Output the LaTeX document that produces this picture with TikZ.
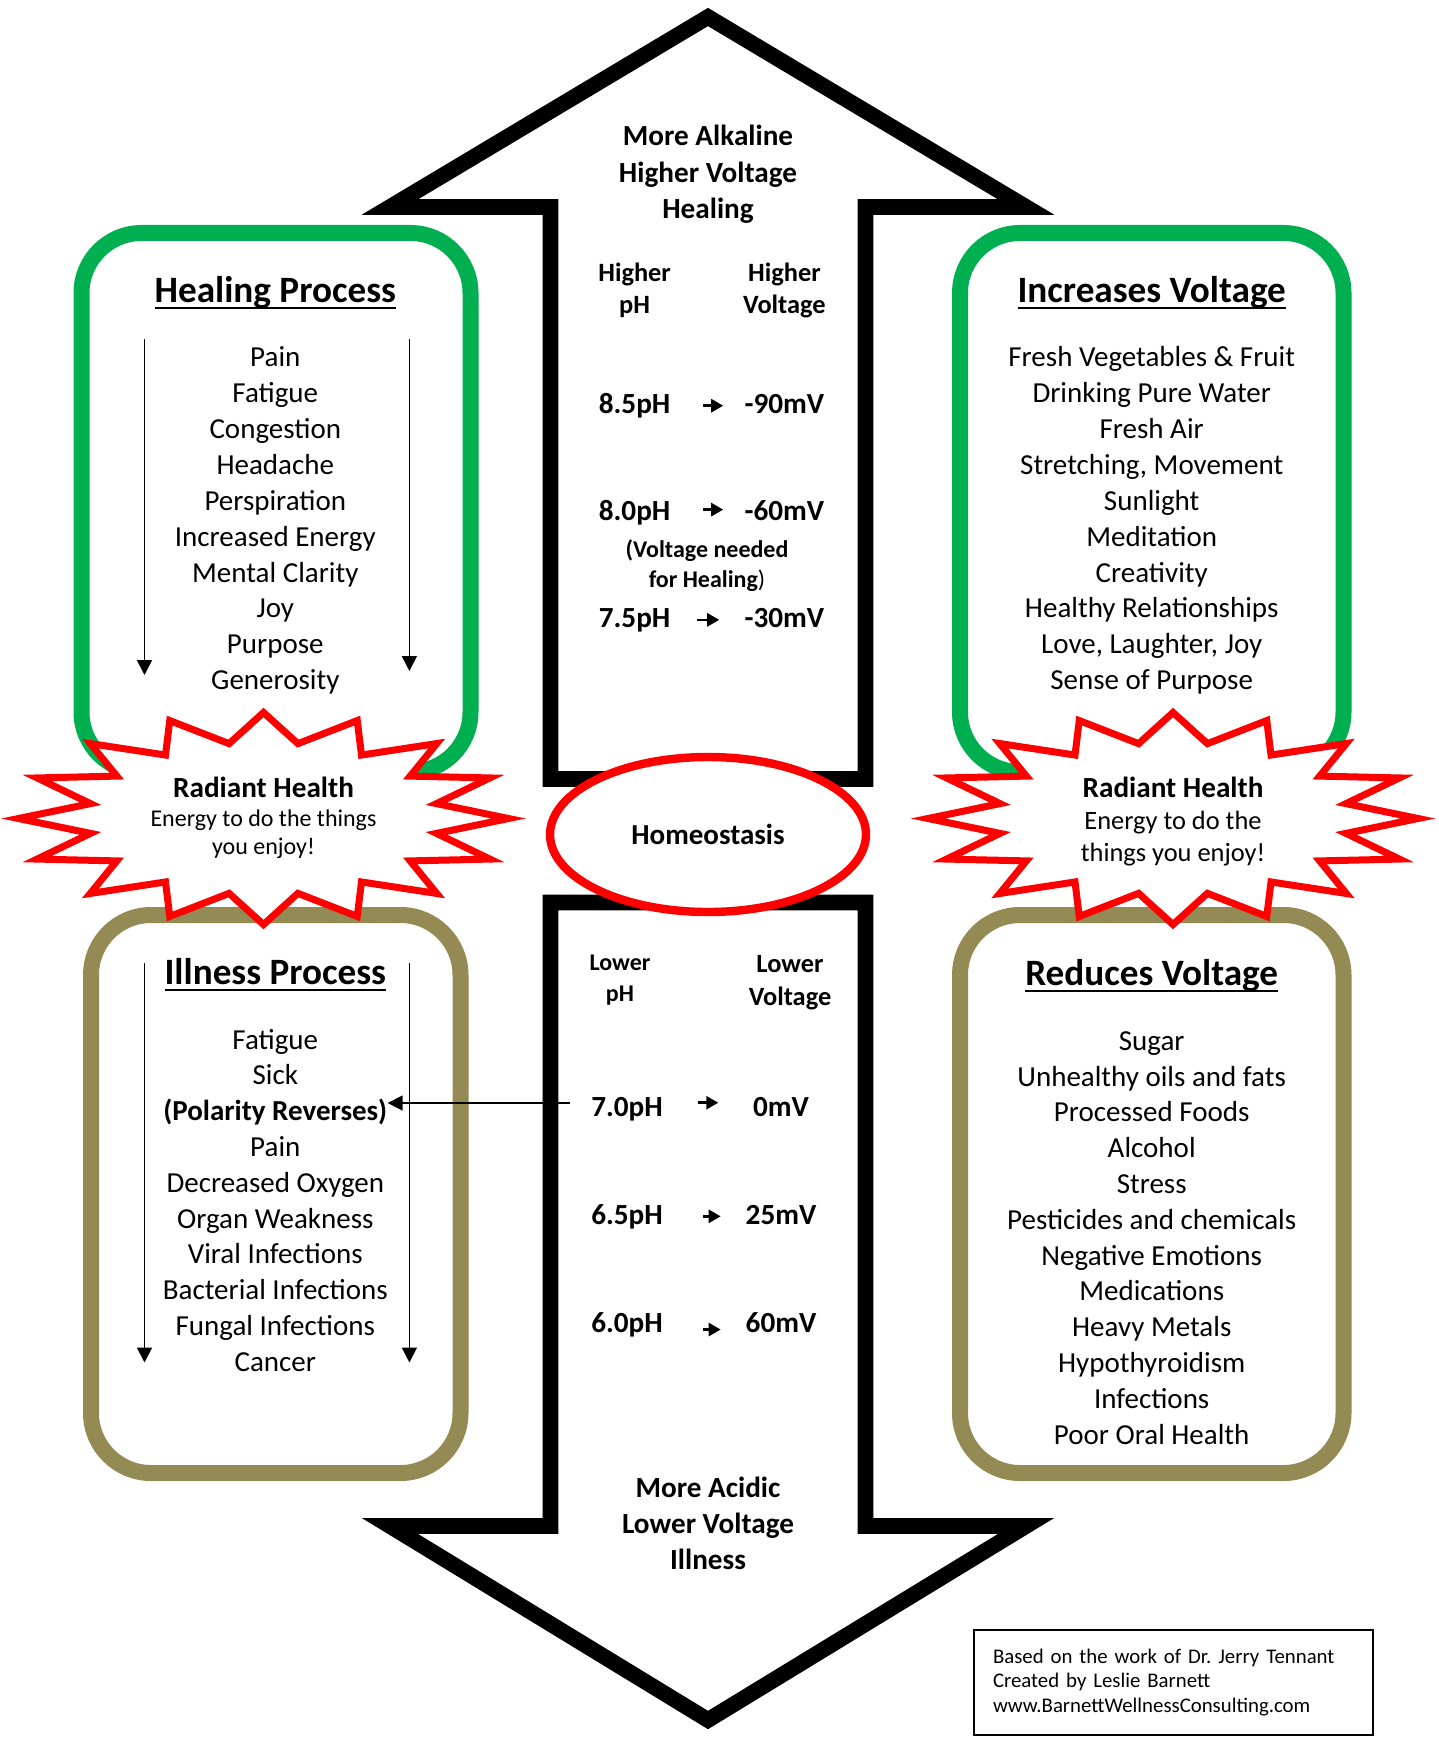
\documentclass[tikz,border=0pt]{standalone}
\usepackage{fontspec}
\setmainfont{Carlito}
\usetikzlibrary{arrows.meta,shapes.geometric}
\frenchspacing

\definecolor{healgreen}{RGB}{0,176,80}
\definecolor{sickolive}{RGB}{148,138,84}

\newcommand{\fsz}[2]{\fontsize{#1}{#2}\selectfont}
% underlined title
\newsavebox{\ttlbox}
\newcommand{\titleline}[1]{\sbox{\ttlbox}{#1}\rlap{\usebox{\ttlbox}}\rule[-3.3pt]{\wd\ttlbox}{1pt}}
% 16 point burst round (#1,#2)
\newcommand{\radiant}[2]{%
  \draw[burst] plot[samples at={0,...,31}]
    ({#1+245*(1-0.28*mod(\x,2))*cos(\x*11.25)},
     {#2+106*(1-0.28*mod(\x,2))*sin(\x*11.25)}) -- cycle;}

\tikzset{
  bigarrow/.style={draw=black, line width=7.85pt, line join=miter, fill=white},
  goodbox/.style={draw=healgreen, line width=8pt, rounded corners=30pt},
  badbox/.style={draw=sickolive, line width=8pt, rounded corners=30pt},
  burst/.style={draw=red, line width=3.5pt, line join=miter, fill=white},
  homeo/.style={ellipse, draw=red, line width=4.2pt, fill=white, inner sep=0pt,
    minimum width=158pt, minimum height=77.5pt, font=\bfseries\fsz{14.5}{18}},
  hd/.style={anchor=base, inner sep=0pt, font=\bfseries\fsz{14.6}{18}},
  col/.style={anchor=base, inner sep=0pt, font=\bfseries\fsz{13.2}{16}},
  colsmall/.style={anchor=base, inner sep=0pt, font=\bfseries\fsz{12}{14}},
  note/.style={anchor=base, inner sep=0pt, font=\bfseries\fsz{12}{14}},
  ttl/.style={anchor=base, inner sep=0pt, font=\bfseries\fsz{18.6}{22}},
  item/.style={anchor=base, inner sep=0pt, font=\fsz{14.5}{17.4}},
  cheer/.style={anchor=base, inner sep=0pt, font=\fsz{12}{14}},
  cheerbig/.style={anchor=base, inner sep=0pt, font=\fsz{13.2}{16}},
  credit/.style={draw, line width=1pt, text width=180.5pt, align=left,
    inner xsep=9.5pt, minimum height=52.5pt, font=\fsz{10.4}{12.25}},
  phar/.style={-{Triangle[length=6pt,width=6.5pt]}, line width=1.3pt},
  listar/.style={-{Triangle[length=7.5pt,width=7.5pt]}, line width=0.85pt}
}

\begin{document}
\begin{tikzpicture}[x=0.5pt,y=-0.5pt]
  \fill[white] (0,0) rectangle (1439,1739);
  \useasboundingbox (0,0) rectangle (1439,1739);

  % Big arrows up and down
  \draw[bigarrow] (550.5,779) -- (550.5,207) -- (390,207) -- (708,17)
    -- (1026,207) -- (865.5,207) -- (865.5,779) -- cycle;
  \draw[bigarrow] (550.5,902.5) -- (550.5,1526) -- (390,1526) -- (708,1720)
    -- (1026,1526) -- (865.5,1526) -- (865.5,902.5) -- cycle;

  % Side boxes
  \draw[goodbox] (81.5,233) rectangle (470.5,772);
  \draw[goodbox] (960,233) rectangle (1343.5,772);
  \draw[badbox] (91,915) rectangle (460.5,1473);
  \draw[badbox] (960,915) rectangle (1343.5,1473);

  % Bursts
  \radiant{263.5}{818.5}
  \radiant{1173}{818.5}

  \node[homeo] (homeo) at (708,834.5) {Homeostasis};

  % Upper arrow text
  \node[hd] (alk) at (708,146) {More Alkaline};
  \node[hd] (hivolt) at (708,183) {Higher Voltage};
  \node[hd] (heal) at (708,219) {Healing};
  \node[col] (hph1) at (634.6,281) {Higher};
  \node[col] (hph2) at (634.6,314) {pH};
  \node[col] (hv1) at (784.4,281) {Higher};
  \node[col] (hv2) at (784.4,314) {Voltage};

  \node[hd] (p85) at (634.6,413.5) {8.5pH};
  \node[hd] (v85) at (784.4,413.5) {-90mV};
  \node[hd] (p80) at (634.6,520) {8.0pH};
  \node[hd] (v80) at (784.4,520) {-60mV};
  \node[note] (need1) at (707,557) {(Voltage needed};
  \node[note] (need2) at (707,587) {for Healing\mdseries)};
  \node[hd] (p75) at (634.6,627) {7.5pH};
  \node[hd] (v75) at (784.4,627) {-30mV};

  \draw[phar, shorten <=16.3pt, shorten >=10.5pt] (p85.east) -- (p85.east -| v85.west);
  \draw[phar, shorten <=16pt, shorten >=10.5pt] ([yshift=1.3pt]p80.east) -- ([yshift=1.3pt]p80.east -| v80.west);
  \draw[phar, shorten <=13.3pt, shorten >=12.5pt] (p75.east) -- (p75.east -| v75.west);

  % Lower arrow text
  \node[colsmall] (lph1) at (620,970) {Lower};
  \node[colsmall] (lph2) at (620,1001) {pH};
  \node[col] (lv1) at (790,972.7) {Lower};
  \node[col] (lv2) at (790,1005) {Voltage};

  \node[hd] (p70) at (627,1116) {7.0pH};
  \node[hd] (v70) at (781,1116) {0mV};
  \node[hd] (p65) at (627,1224) {6.5pH};
  \node[hd] (v65) at (781,1224) {25mV};
  \node[hd] (p60) at (627,1332) {6.0pH};
  \node[hd] (v60) at (781,1332) {60mV};

  \draw[phar, shorten <=17.3pt, shorten >=17.2pt] ([yshift=3pt]p70.east) -- ([yshift=3pt]p70.east -| v70.west);
  \draw[phar, shorten <=19.8pt, shorten >=12.3pt] (p65.east) -- (p65.east -| v65.west);
  \draw[phar, shorten <=19.8pt, shorten >=12.3pt] ([yshift=-2.6pt]p60.east) -- ([yshift=-2.6pt]p60.east -| v60.west);

  \node[hd] (acid) at (708,1497) {More Acidic};
  \node[hd] (lovolt) at (708,1533) {Lower Voltage};
  \node[hd] (ill) at (708,1569) {Illness};

  % Healing process
  \node[ttl] (hptitle) at (275.3,302) {\titleline{Healing Process}};
  \foreach \t [count=\i from 0] in {Pain, Fatigue, Congestion, Headache,
      Perspiration, Increased Energy, Mental Clarity, Joy, Purpose, Generosity}
    \node[item] (hp\i) at (275.3,366.6+35.9*\i) {\t};
  \coordinate (hpa1) at (144.5,339);
  \coordinate (hpa2) at (144.5,675);
  \coordinate (hpb1) at (409.4,339);
  \coordinate (hpb2) at (409.4,671);
  \draw[listar] (hpa1) -- (hpa2);
  \draw[listar] (hpb1) -- (hpb2);

  % Increases voltage
  \node[ttl] (uptitle) at (1151.7,302) {\titleline{Increases Voltage}};
  \foreach \t [count=\i from 0] in {Fresh Vegetables \& Fruit, Drinking Pure Water,
      Fresh Air, {Stretching, Movement}, Sunlight, Meditation, Creativity,
      Healthy Relationships, {Love, Laughter, Joy}, Sense of Purpose}
    \node[item] (up\i) at (1151.7,366.6+35.9*\i) {\t};

  % Radiant health
  \node[hd] (rhl) at (263.5,797) {Radiant Health};
  \node[cheer] (rhla) at (263.5,826.7) {Energy to do the things};
  \node[cheer] (rhlb) at (263.5,854.5) {you enjoy!};
  \node[hd] (rhr) at (1173,797) {Radiant Health};
  \node[cheerbig] (rhra) at (1173,829.5) {Energy to do the};
  \node[cheerbig] (rhrb) at (1173,861.5) {things you enjoy!};

  % Illness process
  \node[ttl] (iptitle) at (275.3,984) {\titleline{Illness Process}};
  \foreach \t [count=\i from 0] in {Fatigue, Sick, \textbf{(Polarity Reverses)}, Pain,
      Decreased Oxygen, Organ Weakness, Viral Infections, Bacterial Infections,
      Fungal Infections, Cancer}
    \node[item] (ip\i) at (275.3,1049.2+35.76*\i) {\t};
  \coordinate (ipa1) at (144.5,963);
  \coordinate (ipa2) at (144.5,1362.5);
  \coordinate (ipb1) at (409.4,963);
  \coordinate (ipb2) at (409.4,1362.5);
  \draw[listar] (ipa1) -- (ipa2);
  \draw[listar] (ipb1) -- (ipb2);
  \coordinate (polsrc) at (570,1103);
  \draw[listar] (polsrc) -- (polsrc -| ip2.east);

  % Reduces voltage
  \node[ttl] (downtitle) at (1151.7,985) {\titleline{Reduces Voltage}};
  \foreach \t [count=\i from 0] in {Sugar, Unhealthy oils and fats, Processed Foods,
      Alcohol, Stress, Pesticides and chemicals, Negative Emotions, Medications,
      Heavy Metals, Hypothyroidism, Infections, Poor Oral Health}
    \node[item] (dn\i) at (1151.7,1050.3+35.8*\i) {\t};

  % Credits
  \node[credit, anchor=north west] (cred) at (973,1629)
    {Based on the work of Dr. Jerry Tennant\\Created by Leslie Barnett\\www.BarnettWellnessConsulting.com};
\end{tikzpicture}
\end{document}
